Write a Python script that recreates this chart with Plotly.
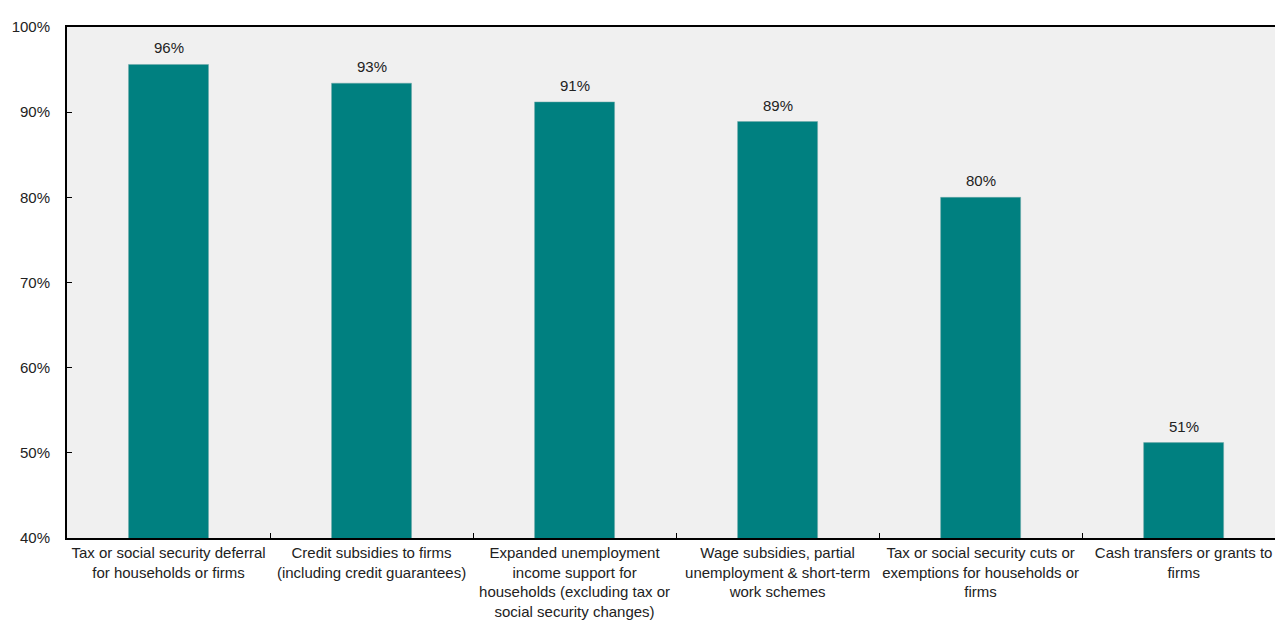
import plotly.graph_objects as go

categories = [
    "Tax or social security deferral<br>for households or firms",
    "Credit subsidies to firms<br>(including credit guarantees)",
    "Expanded unemployment<br>income support for<br>households (excluding tax or<br>social security changes)",
    "Wage subsidies, partial<br>unemployment & short-term<br>work schemes",
    "Tax or social security cuts or<br>exemptions for households or<br>firms",
    "Cash transfers or grants to<br>firms",
]
values = [95.6, 93.4, 91.2, 88.9, 80.0, 51.2]
labels = ["96%", "93%", "91%", "89%", "80%", "51%"]

FONT = "Liberation Sans Narrow, Arial Narrow, Liberation Sans, Arial, sans-serif"

fig = go.Figure()
fig.add_trace(go.Bar(
    x=categories, y=values,
    marker=dict(color="#008080", line=dict(color="#6fa9a9", width=0.5)),
    width=0.394,
    base=0,
))

for c, v, t in zip(categories, values, labels):
    fig.add_annotation(x=c, y=v, text=t, showarrow=False, yanchor="bottom",
                       yshift=6, font=dict(family=FONT, size=15, color="#222222"))

fig.update_layout(
    width=1275, height=626,
    margin=dict(l=67, r=0, t=27, b=88),
    paper_bgcolor="white",
    plot_bgcolor="#F0F0F0",
    showlegend=False,
    font=dict(family=FONT, size=14, color="#222222"),
)
fig.update_xaxes(
    range=[-0.5, 5.45], automargin=False, tickangle=0,
    showline=True, linecolor="#000000", linewidth=2, mirror=True,
    ticks="inside", tickson="boundaries", ticklen=5, tickcolor="#000000",
    showgrid=False,
    tickfont=dict(family=FONT, size=15, color="#222222"),
)
fig.update_yaxes(
    range=[40, 100], dtick=10, ticksuffix="%", automargin=False,
    showline=True, linecolor="#000000", linewidth=2,
    ticks="inside", ticklen=5, tickcolor="#000000",
    ticklabelstandoff=12,
    showgrid=False, zeroline=False,
    tickfont=dict(family=FONT, size=15, color="#222222"),
)

fig.write_html("out.html")
